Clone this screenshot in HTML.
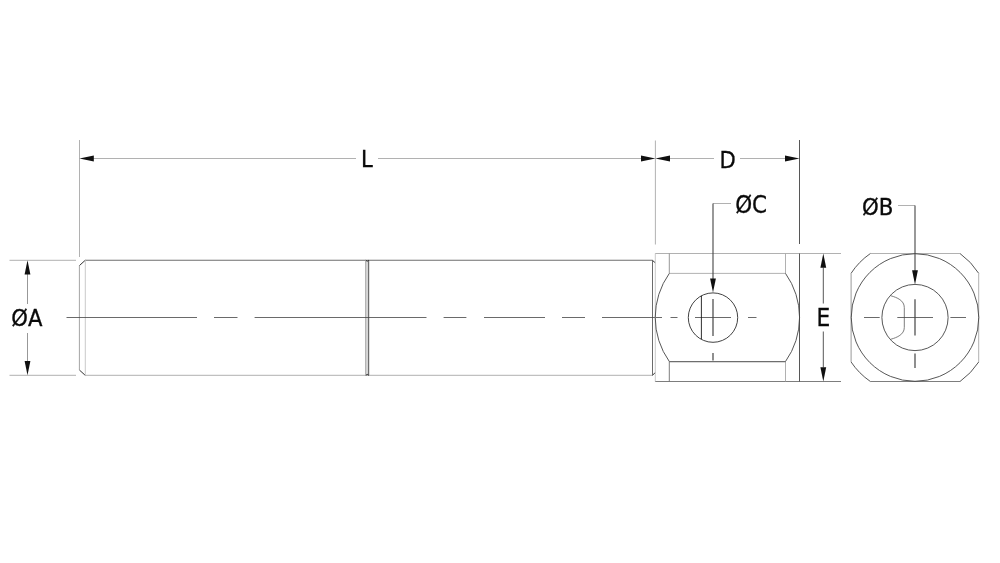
<!DOCTYPE html>
<html lang="en">
<head>
<meta charset="utf-8">
<title>Clevis pin dimension drawing</title>
<style>
  html, body { margin: 0; padding: 0; background: #ffffff; }
  body { width: 1000px; height: 563px; overflow: hidden; }
  svg { display: block; will-change: transform; }
  svg path, svg circle { fill: none; stroke-width: 0.9; }
  .k1 { stroke: #1a1a1a; }
  .k2 { stroke: #444444; }
  .k3 { stroke: #6e6e6e; }
  .k4 { stroke: #8c8c8c; }
  .k5 { stroke: #a8a8a8; }
  .k6 { stroke: #c4c4c4; }
  svg path.ar { fill: #101010; stroke: none; }
  text { font-family: "DejaVu Sans Condensed", "DejaVu Sans", "Liberation Sans", sans-serif; font-size: 23.5px; font-stretch: condensed; fill: #0a0a0a; stroke: #0a0a0a; stroke-width: 0.3px; }
</style>
</head>
<body>
<svg width="1000" height="563" viewBox="0 0 1000 563">
  <rect x="0" y="0" width="1000" height="563" fill="#ffffff"/>

  <!-- ===== shaft ===== -->
  <g id="shaft">
    <path class="k3" style="stroke-width:1.1" d="M85.2 260.3 H652.4"/>
    <path class="k5" d="M85.2 375.3 H652.4"/>
    <path class="k1" d="M79.4 265.6 L85.2 260.3 M79.4 370 L85.2 375.3"/>
    <path class="k1" d="M652.4 260.3 L655.3 262.8 M652.4 375.3 L655.3 372.6"/>
    <path class="k4" style="stroke:#9a9a9a" d="M79.4 265.6 V370"/>
    <path class="k6" d="M85.3 260.3 V375.3"/>
    <rect x="365.4" y="260.8" width="3.4" height="114" fill="#d6d6d6"/>
    <path class="k5" d="M365.6 260.3 V375.3"/>
    <path class="k2" d="M368.7 260.3 V375.3"/>
    <path class="k1" d="M365.8 260.3 L367.2 261.2 L368.7 260.3 M365.8 375.3 L367.2 374.4 L368.7 375.3"/>
    <path class="k2" style="stroke:#5a5a5a" d="M652.5 260.3 V375.3"/>
  </g>

  <!-- ===== centre line ===== -->
  <g id="centre">
    <path class="k2" style="stroke-width:0.8" d="M66.5 317.5 H197 M214 317.5 H237.5 M254.6 317.5 H426.5 M443.6 317.5 H466.4 M484 317.5 H545 M562 317.5 H585 M602 317.5 H662 M670.5 317.5 H677.5 M695 317.5 H731 M748 317.5 H756.5"/>
    <path class="k2" style="stroke-width:1.2" d="M713 353 V360.5"/>
  </g>

  <!-- ===== clevis head (side view) ===== -->
  <g id="clevis">
    <path class="k6" d="M655.3 253.5 V381.5"/>
    <path class="k5" d="M655.3 253.5 H841"/>
    <path class="k3" d="M655.3 381.5 H841"/>
    <path class="k2" d="M799.5 253.5 V381.5"/>
    <path class="k4" d="M669.3 253.5 V273.4"/>
    <path class="k3" d="M669.3 361.5 V381.5"/>
    <path class="k5" d="M785.5 253.5 V273.4 M785.5 361.5 V381.5"/>
    <path class="k5" d="M669.3 273.4 H785.5"/>
    <path class="k3" style="stroke-width:1.2" d="M669.3 361.7 H785.5"/>
    <path class="k2" d="M669.3 273.4 A76 76 0 0 0 669.3 361.5"/>
    <path class="k2" d="M785.5 273.4 A76 76 0 0 1 785.5 361.5"/>
    <circle class="k1" style="stroke:#2c2c2c" cx="713" cy="317.6" r="24.7"/>
    <path class="k1" d="M701.4 295.7 V339.2"/>
    <path class="k2" style="stroke-width:1.2" d="M713 299 V336"/>
  </g>

  <!-- ===== end view ===== -->
  <g id="endview">
    <path class="k5" d="M870.4 253.5 H960"/>
    <path class="k3" d="M870.4 381.5 H960"/>
    <path class="k2" d="M960 253.5 Q971.3 261.6 978.7 273.3 M978.7 362 Q971.3 373.4 960 381.5 M870.4 381.5 Q858.7 373.4 851.1 362 M851.1 273.3 Q858.7 261.6 870.4 253.5"/>
    <path class="k4" d="M851.1 273.3 V362"/>
    <path class="k5" d="M978.7 273.3 V362"/>
    <circle class="k2" cx="915" cy="317.5" r="63.8"/>
    <circle class="k2" cx="915" cy="317.5" r="33.1"/>
    <path class="k3" d="M891 295.8 C897 297.5 904.3 300.5 904.3 307.5 V327.5 C904.3 334.5 897 337.5 891 339.2"/>
    <path class="k2" style="stroke-width:0.8" d="M864 317.5 H879.7 M897.3 317.5 H933 M950.4 317.5 H966"/>
    <path class="k2" style="stroke-width:1.2" d="M915 353.5 V368"/>
    <path class="k2" style="stroke-width:1.2" d="M915 299.2 V335.6"/>
  </g>

  <!-- ===== dimensions ===== -->
  <g id="dims">
    <path class="k5" d="M79.5 140 V257 M655.4 140.5 V244.5"/>
    <path class="k2" d="M799.5 140 V244"/>
    <path class="k5" d="M93 158.5 H356 M378 158.5 H641 M670 158.5 H714 M740 158.5 H785"/>
    <path class="ar" d="M79.5 158.5 L93.8 155.6 V161.4 Z"/>
    <path class="ar" d="M655.4 158.5 L641 155.6 V161.4 Z"/>
    <path class="ar" d="M655.4 158.5 L670 155.6 V161.4 Z"/>
    <path class="ar" d="M799.5 158.5 L785 155.6 V161.4 Z"/>

    <path class="k5" d="M9.5 260.3 H76 M9.5 375.3 H76"/>
    <path class="k4" d="M27.5 274 V304 M27.5 333 V361"/>
    <path class="ar" d="M27.5 260.3 L24.6 274.5 H30.4 Z"/>
    <path class="ar" d="M27.5 375.3 L24.6 361 H30.4 Z"/>

    <path class="k2" d="M823.3 267.5 V303.5 M823.3 331.5 V367.5"/>
    <path class="ar" d="M823.3 253.5 L820.4 267.8 H826.2 Z"/>
    <path class="ar" d="M823.3 381.5 L820.4 367.2 H826.2 Z"/>

    <path class="k5" d="M731 203.5 H713"/>
    <path class="k2" style="stroke-width:1.1" d="M713 203.5 V279"/>
    <path class="ar" d="M713 292.6 L710.1 278.4 H715.9 Z"/>

    <path class="k5" d="M898 205.5 H915"/>
    <path class="k2" style="stroke-width:1.1" d="M915 205.5 V271"/>
    <path class="ar" d="M915 284.4 L912.1 270.2 H917.9 Z"/>
  </g>

  <!-- ===== labels ===== -->
  <g id="labels">
    <text id="tA" x="11.3" y="326.3">ØA</text>
    <text id="tL" x="361" y="167.4">L</text>
    <text id="tD" x="719.6" y="167.5">D</text>
    <text id="tC" x="735.2" y="212.7" style="font-size:23.9px">ØC</text>
    <text id="tB" x="862.1" y="214.7" style="font-size:23.7px">ØB</text>
    <text id="tE" x="816.5" y="326.4" style="font-size:24.2px">E</text>
  </g>
</svg>
</body>
</html>
